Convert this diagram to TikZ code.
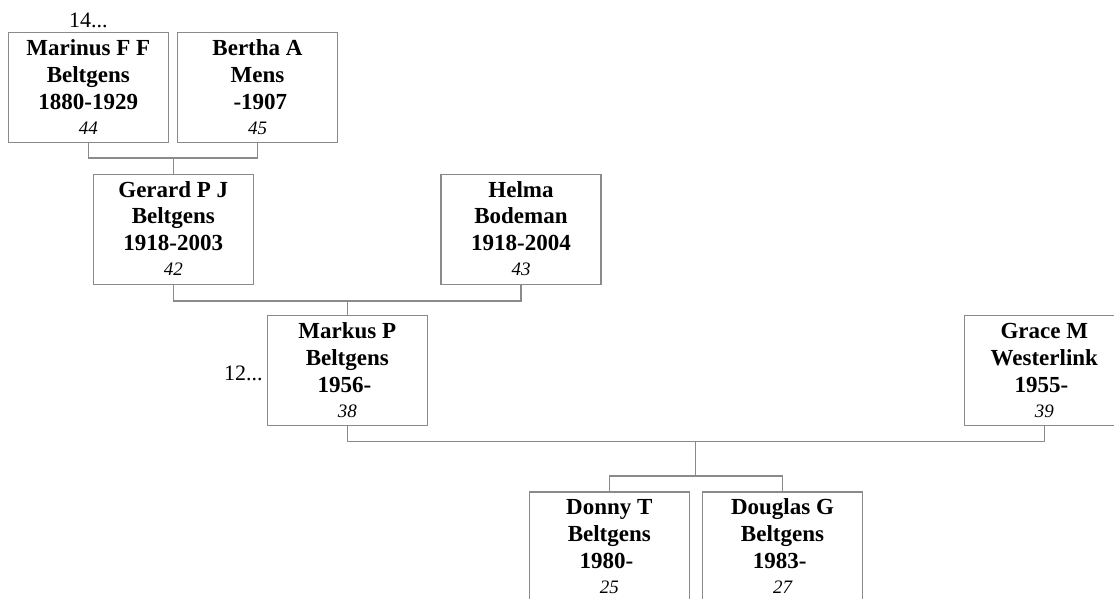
\documentclass[tikz,border=0pt]{standalone}
\usepackage{fontspec}
\setmainfont{Liberation Serif}
\usetikzlibrary{calc}
\definecolor{linegray}{RGB}{138,138,138}
\tikzset{
  pbox/.style={draw=linegray, line width=1.2pt, minimum width=160pt, minimum height=110pt, inner sep=0pt, fill=white},
  ptext/.style={anchor=base, align=center, inner sep=0pt, font=\fontsize{23}{26.8}\selectfont\bfseries},
  pnum/.style={anchor=base, inner sep=0pt, font=\fontsize{19}{22}\selectfont\itshape},
  more/.style={inner sep=0pt, font=\fontsize{22}{26}\selectfont},
  conn/.style={draw=linegray, line width=1.2pt}
}
% #1 name, #2 x, #3 y (center), #4 text lines, #5 number
% the base anchor of a multi-line node lies on its last line
\newcommand\personbox[5]{%
  \node[pbox] (#1) at (#2,#3) {};
  \node[ptext] (#1-t) at ($(#1.north)+(0,77)$) {#4};
  \node[pnum] (#1-n) at ($(#1.north)+(0,102)$) {#5};
}
\begin{document}
\begin{tikzpicture}[x=1pt,y=-1pt]
\useasboundingbox (0,0) rectangle (1114,598);
\clip (0,0) rectangle (1114,598);

\personbox{marinus}{88.3}{87.7}{Marinus F F\\Beltgens\\1880-1929}{44}
\personbox{bertha}{257.5}{87.7}{Bertha A\\Mens\\\kern.25em-1907}{45}
\personbox{gerard}{173.3}{229.3}{Gerard P J\\Beltgens\\1918-2003}{42}
\personbox{helma}{521}{229.3}{Helma\\Bodeman\\1918-2004}{43}
\personbox{markus}{347.3}{370.7}{Markus P\\Beltgens\\1956-\kern.25em}{38}
\personbox{grace}{1044.3}{370.7}{Grace M\\Westerlink\\1955-\kern.25em}{39}
\personbox{donny}{609.3}{547}{Donny T\\Beltgens\\1980-\kern.25em}{25}
\personbox{douglas}{782.5}{547}{Douglas G\\Beltgens\\1983-\kern.25em}{27}

\node[more, anchor=base] (m14) at ($(marinus.north)+(0,-4.3)$) {14...};
\node[more, anchor=base east] (m12) at ($(markus.west)+(-4,10)$) {12...};

% Marinus + Bertha -> Gerard
\coordinate (c1) at ($(marinus.south)+(0,14.6)$);
\draw[conn] (marinus.south) -- (c1) -- (c1 -| bertha.south) -- (bertha.south);
\draw[conn] (c1 -| gerard.north) -- (gerard.north);
% Gerard + Helma -> Markus
\coordinate (c2) at ($(gerard.south)+(0,16)$);
\draw[conn] (gerard.south) -- (c2) -- (c2 -| helma.south) -- (helma.south);
\draw[conn] (c2 -| markus.north) -- (markus.north);
% Markus + Grace -> children
\coordinate (c3) at ($(markus.south)+(0,15)$);
\coordinate (c3m) at ($(markus.south)!0.5!(grace.south)$);
\coordinate (c4) at (c3m |- 0,476);
\draw[conn] (markus.south) -- (c3) -- (c3 -| grace.south) -- (grace.south);
\draw[conn] (c3 -| c3m) -- (c4);
\draw[conn] (donny.north |- c4) -- (douglas.north |- c4);
\draw[conn] (donny.north |- c4) -- (donny.north);
\draw[conn] (douglas.north |- c4) -- (douglas.north);
\end{tikzpicture}
\end{document}
